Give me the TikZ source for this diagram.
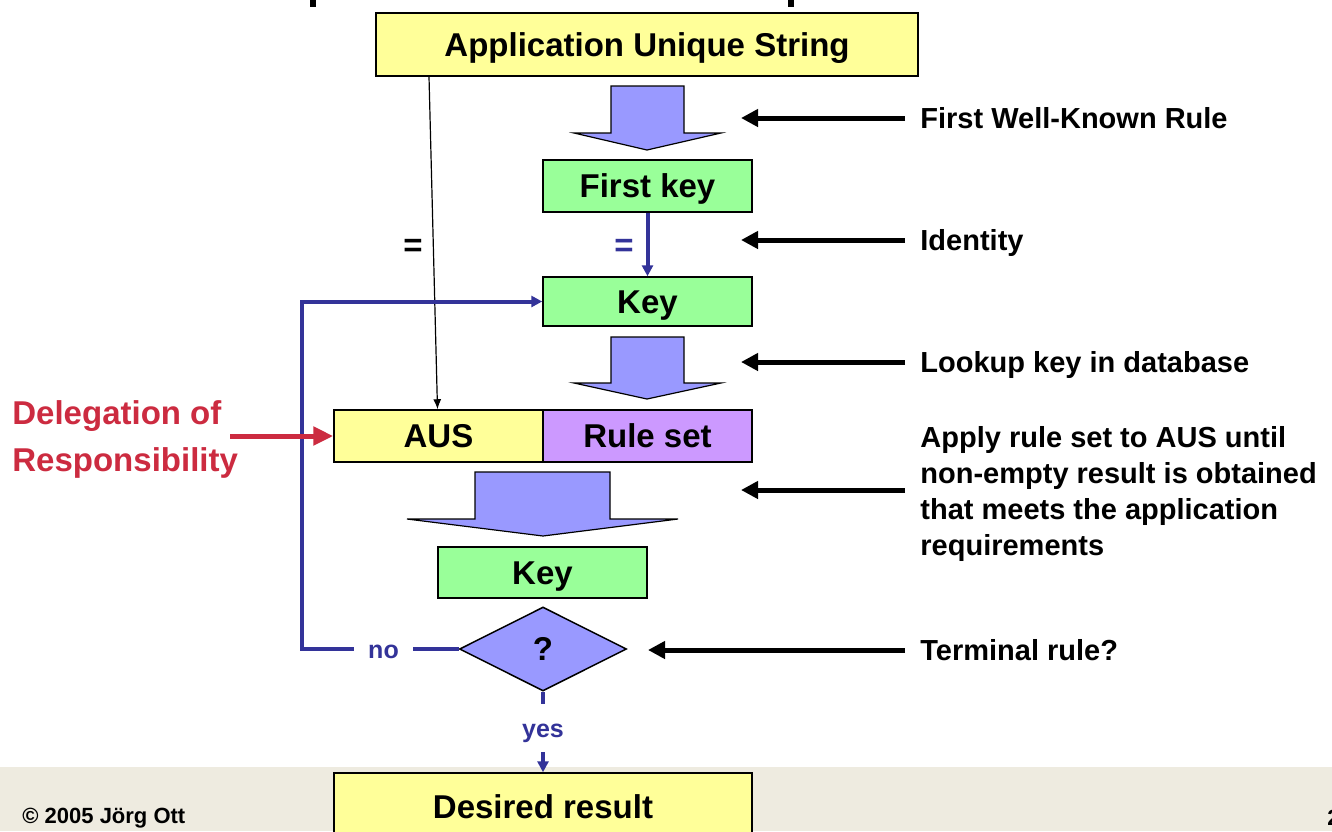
\documentclass[tikz,border=0pt]{standalone}
\usepackage{fontspec}
\setmainfont{Liberation Sans}
\usetikzlibrary{arrows.meta,shapes.geometric,calc}
\definecolor{boxyellow}{HTML}{FFFF99}
\definecolor{boxgreen}{HTML}{99FF99}
\definecolor{boxpurple}{HTML}{CC99FF}
\definecolor{blockblue}{HTML}{9999FF}
\definecolor{lineblue}{HTML}{333399}
\definecolor{delred}{HTML}{CC2B40}
\definecolor{band}{HTML}{EEEBE0}
\begin{document}
\begin{tikzpicture}[x=0.5pt,y=-0.5pt,
  box/.style={draw=black, line width=0.75pt, inner sep=0pt, text height=11.8pt, text depth=0pt, font=\bfseries\fontsize{16.5}{19}\selectfont},
  lab/.style={anchor=west, inner xsep=7.5pt, inner ysep=0pt, align=left, font=\bfseries\fontsize{14.5}{18}\selectfont},
  onelab/.style={lab, text height=10.4pt, text depth=0pt},
  ptr/.style={line width=2.5pt, -{Triangle[length=8.5pt,width=8.5pt]}},
  bline/.style={draw=lineblue, line width=2pt},
  barrow/.style={bline, -{Triangle[length=5.5pt,width=5.5pt]}},
  blockarrow/.style={fill=blockblue, draw=black, line width=0.6pt, line join=miter},
  eqsign/.style={font=\bfseries\fontsize{16.5}{19}\selectfont, inner sep=0pt},
  yn/.style={font=\bfseries\fontsize{12.5}{15}\selectfont, text=lineblue, inner sep=0pt, text height=9pt, text depth=0pt}
]
\clip (0,0) rectangle (1332,831);
\fill[white] (0,0) rectangle (1332,831);
% bottom band
\fill[band] (0,767) rectangle (1332,831);
% cut-off title fragments
\fill[black] (310,0) rectangle (316,7);
\fill[black] (788,0) rectangle (794,7);

% boxes
\node[box, fill=boxyellow, minimum width=271pt, minimum height=31.5pt] (top) at (647,44.5) {Application Unique String};
\node[box, fill=boxgreen, minimum width=104.5pt, minimum height=26pt] (fk) at (647.5,186) {First key};
\node[box, fill=boxgreen, minimum width=104.5pt, minimum height=24.5pt] (key) at (647.5,301.5) {Key};
\node[box, fill=boxyellow, minimum width=104.5pt, minimum height=26pt] (aus) at (438.5,436) {AUS};
\node[box, fill=boxpurple, minimum width=104.5pt, minimum height=26pt] (rules) at (647.5,436) {Rule set};
\node[box, fill=boxgreen, minimum width=104.5pt, minimum height=25.5pt] (key2) at (542.5,572.5) {Key};
\node[box, shape=diamond, fill=blockblue, minimum width=83.5pt, minimum height=42pt, aspect=2] (dia) at (543,649) {?};
\node[box, fill=boxyellow, minimum width=209pt, minimum height=34pt] (res) at (543,807) {Desired result};

% block arrows
\path[blockarrow] (611,86) -- (684,86) -- (684,133) -- (721,133) -- (647,150) -- (574,133) -- (611,133) -- cycle;
\path[blockarrow] (611,337) -- (684,337) -- (684,383) -- (721,383) -- (647,399) -- (574,383) -- (611,383) -- cycle;
\path[blockarrow] (475,472) -- (610,472) -- (610,519) -- (678,519) -- (543,536) -- (407,519) -- (475,519) -- cycle;

% equal signs
\node[eqsign, text=black] (eq1) at (413,248) {=};
\node[eqsign, text=lineblue] (eq2) at (624,248) {=};

% thin black arrow AUS string -> AUS
\draw[line width=0.6pt, -{Latex[length=5pt,width=4pt]}] ($(top.south)+(-218,0)$) -- ($(aus.north)+(-1,0)$);

% first key -> key
\draw[barrow] (fk.south) -- (key.north);

% no / yes
\node[yn, minimum width=29.5pt] (no) at (383.5,649) {no};
\node[yn, minimum height=24pt] (yes) at (543,728) {yes};
\coordinate (loop) at (302,649);
\draw[bline] (dia.west) -- (no.east);
\draw[barrow] (no.west) -- (loop) |- (key.west);
\draw[bline] (dia.south) -- (yes.north);
\draw[barrow] (yes.south) -- (res.north);

% delegation
\node[anchor=west, align=left, inner sep=0pt, text=delred, font=\bfseries\fontsize{16.5}{23.5}\selectfont] (del) at (12,439) {Delegation of\\Responsibility};
\coordinate (delstart) at (230,436);
\draw[draw=delred, line width=2.5pt, -{Triangle[length=10pt,width=9pt]}] (delstart) -- (aus.west);

% right labels
\node[onelab] (l1) at (905,118) {First Well-Known Rule};
\node[onelab] (l2) at (905,240) {Identity};
\node[onelab] (l3) at (905,362) {Lookup key in database};
\node[lab] (l4) at (905,494) {Apply rule set to AUS until\\non-empty result is obtained\\that meets the application\\requirements};
\node[onelab] (l5) at (905,650) {Terminal rule?};
\coordinate (t1) at (741,118);
\coordinate (t2) at (741,240);
\coordinate (t3) at (741,362);
\coordinate (t4) at (741,490);
\coordinate (t5) at (648,650);
\draw[ptr] (l1.west) -- (t1);
\draw[ptr] (l2.west) -- (t2);
\draw[ptr] (l3.west) -- (t3);
\draw[ptr] ($(l4.west)+(0,-4)$) -- (t4);
\draw[ptr] (l5.west) -- (t5);

% footer
\node[anchor=west, inner sep=0pt, font=\bfseries\fontsize{11}{13}\selectfont] (copy) at (22,818) {© 2005 Jörg Ott};
\node[anchor=west, inner sep=0pt, font=\bfseries\fontsize{11}{13}\selectfont] (pg) at (1327,818) {2};
\end{tikzpicture}
\end{document}
